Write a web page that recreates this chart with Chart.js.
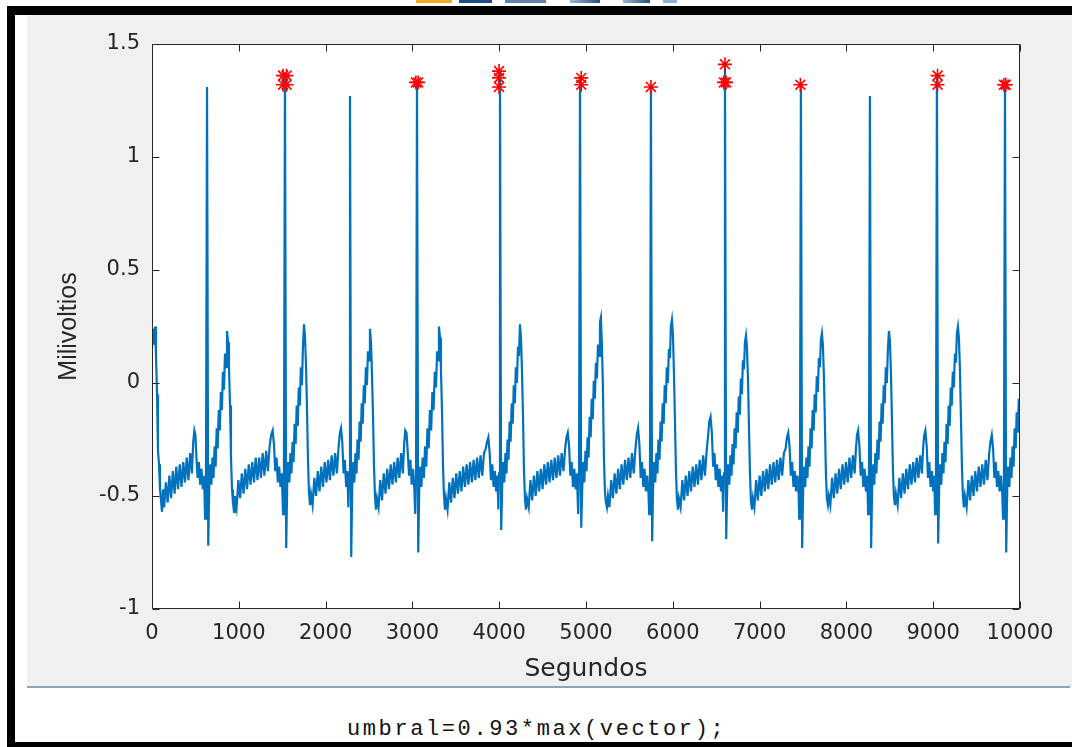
<!DOCTYPE html>
<html><head><meta charset="utf-8">
<script src="https://cdn.jsdelivr.net/npm/chart.js@4.4.0/dist/chart.umd.min.js"></script>
<style>
html,body{margin:0;padding:0;background:#fff;}
body{width:1072px;height:747px;position:relative;overflow:hidden;}
.abs{position:absolute;}
#frameTop{left:7px;top:6px;width:1065px;height:9px;background:#000;}
#frameLeft{left:7px;top:6px;width:8px;height:741px;background:#000;}
#frameBottom{left:7px;top:742px;width:1065px;height:5px;background:#000;}
#panel{left:27px;top:15px;width:1045px;height:672px;background:#f0f0f0;}
#sep{left:27px;top:686px;width:1043px;height:2px;background:#8da2bb;}
#code{left:347px;top:719px;font-family:"Liberation Mono",monospace;font-size:22px;letter-spacing:2.6px;color:#111;line-height:22px;white-space:pre;}
.logo{position:absolute;top:0;height:3px;}
#c{position:absolute;left:0;top:0;}
</style></head>
<body>
<div class="logo" style="left:416px;width:36px;background:#f2a922;"></div>
<div class="logo" style="left:459px;width:33px;background:#1d4f85;"></div>
<div class="logo" style="left:505px;width:41px;background:#5f86a8;"></div>
<div class="logo" style="left:570px;width:30px;background:linear-gradient(90deg,#9fb6cc,#1d4f85);"></div>
<div class="logo" style="left:623px;width:27px;background:linear-gradient(90deg,#9fb6cc,#1d4f85);"></div>
<div class="logo" style="left:663px;width:14px;background:#8fb0d0;"></div>
<div id="frameTop" class="abs"></div>
<div id="frameLeft" class="abs"></div>
<div id="frameBottom" class="abs"></div>
<div id="panel" class="abs"></div>
<div id="sep" class="abs"></div>
<div id="code" class="abs">umbral=0.93*max(vector);</div>
<canvas id="c" width="1072" height="747"></canvas>
<script>
// ---- Datos: [segundos, milivoltios] ----
const tramo0 = [[0,0.15],[12,0.24],[23,0.17],[35,0.25],[46,0.12],[58,-0.05],[69,-0.30],[81,-0.36],[92,-0.47],[104,-0.52],[115,-0.57],[127,-0.47],[140,-0.55],[160,-0.44],[180,-0.53],[200,-0.41],[220,-0.51],[240,-0.39],[260,-0.49],[280,-0.37],[300,-0.47],[320,-0.36],[340,-0.46],[360,-0.35],[380,-0.44],[400,-0.33],[420,-0.43],[440,-0.31],[460,-0.40],[475,-0.26],[488,-0.21],[500,-0.23],[512,-0.33],[525,-0.42],[540,-0.35],[555,-0.45],[570,-0.38],[585,-0.47],[600,-0.41],[612,-0.60],[622,-0.42]];
const latido1 = [[634,1.31],[648,-0.72],[660,-0.46],[672,-0.36],[684,-0.45],[697,-0.33],[709,-0.42],[721,-0.28],[733,-0.37],[745,-0.20],[757,-0.29],[769,-0.12],[781,-0.21],[793,-0.04],[805,-0.12],[817,0.05],[829,-0.03],[841,0.13],[853,0.07],[864,0.23],[876,0.18],[887,0.07],[899,-0.10],[910,-0.33],[922,-0.47],[933,-0.53],[945,-0.57],[956,-0.50],
 [975,-0.55],[995,-0.43],[1015,-0.51],[1035,-0.40],[1055,-0.49],[1075,-0.38],[1095,-0.47],[1115,-0.36],[1135,-0.45],[1155,-0.35],[1175,-0.44],[1195,-0.33],[1215,-0.43],[1235,-0.33],[1255,-0.42],[1275,-0.31],[1295,-0.41],[1315,-0.30],[1335,-0.39],[1355,-0.28],[1373,-0.23],[1390,-0.21],[1405,-0.27],[1420,-0.39],[1435,-0.33],[1450,-0.44],[1465,-0.37],[1480,-0.46],[1495,-0.40],[1510,-0.58],[1520,-0.40]];
const latido2 = [[1532,1.37],[1546,-0.73],[1558,-0.45],[1570,-0.35],[1582,-0.44],[1595,-0.31],[1607,-0.40],[1619,-0.26],[1631,-0.35],[1643,-0.18],[1655,-0.27],[1667,-0.10],[1679,-0.19],[1691,-0.02],[1703,-0.10],[1715,0.07],[1727,-0.01],[1739,0.16],[1751,0.26],[1762,0.21],[1774,0.08],[1785,-0.10],[1797,-0.34],[1808,-0.48],[1820,-0.54],[1832,-0.49],
 [1850,-0.54],[1870,-0.42],[1890,-0.50],[1910,-0.39],[1930,-0.48],[1950,-0.37],[1970,-0.46],[1990,-0.35],[2010,-0.44],[2030,-0.34],[2050,-0.43],[2070,-0.32],[2090,-0.41],[2110,-0.31],[2130,-0.40],[2150,-0.28],[2165,-0.22],[2178,-0.20],[2192,-0.26],[2207,-0.40],[2222,-0.34],[2237,-0.46],[2252,-0.39],[2262,-0.55],[2271,-0.40]];
const latido3 = [[2281,1.27],[2295,-0.77],[2307,-0.46],[2319,-0.35],[2331,-0.44],[2344,-0.31],[2356,-0.40],[2368,-0.25],[2380,-0.34],[2392,-0.17],[2404,-0.26],[2416,-0.09],[2428,-0.18],[2440,-0.01],[2452,-0.09],[2464,0.07],[2476,-0.01],[2488,0.14],[2500,0.10],[2511,0.24],[2523,0.18],[2534,0.04],[2546,-0.14],[2557,-0.36],[2569,-0.50],[2580,-0.56],[2592,-0.51],
 [2610,-0.55],[2630,-0.43],[2650,-0.52],[2670,-0.40],[2690,-0.49],[2710,-0.38],[2730,-0.47],[2750,-0.36],[2770,-0.45],[2790,-0.35],[2810,-0.44],[2830,-0.33],[2850,-0.42],[2870,-0.31],[2890,-0.40],[2905,-0.27],[2918,-0.21],[2932,-0.22],[2947,-0.31],[2962,-0.41],[2977,-0.34],[2992,-0.45],[3007,-0.38],[3022,-0.47],[3033,-0.58],[3042,-0.40]];
const latido4 = [[3053,1.33],[3067,-0.75],[3079,-0.47],[3091,-0.37],[3104,-0.46],[3118,-0.33],[3132,-0.42],[3146,-0.28],[3160,-0.37],[3174,-0.20],[3188,-0.29],[3202,-0.12],[3216,-0.21],[3230,-0.04],[3244,-0.12],[3258,0.05],[3272,-0.02],[3285,0.14],[3295,0.10],[3306,0.25],[3318,0.20],[3329,0.06],[3341,-0.12],[3352,-0.36],[3364,-0.50],[3375,-0.56],[3387,-0.51],
 [3405,-0.56],[3425,-0.44],[3445,-0.53],[3465,-0.42],[3485,-0.51],[3505,-0.40],[3525,-0.49],[3545,-0.39],[3565,-0.48],[3585,-0.37],[3605,-0.46],[3625,-0.36],[3645,-0.45],[3665,-0.35],[3685,-0.44],[3705,-0.34],[3725,-0.43],[3745,-0.33],[3765,-0.42],[3785,-0.32],[3805,-0.41],[3825,-0.31],[3845,-0.29],[3860,-0.26],[3875,-0.24],[3890,-0.31],[3905,-0.43],[3920,-0.36],[3935,-0.46],[3950,-0.39],[3965,-0.48],[3980,-0.41],[3990,-0.56],[3998,-0.40]];
const latido5 = [[4009,1.38],[4023,-0.65],[4035,-0.45],[4047,-0.35],[4059,-0.44],[4072,-0.31],[4084,-0.40],[4096,-0.25],[4108,-0.34],[4120,-0.17],[4132,-0.26],[4144,-0.09],[4156,-0.18],[4168,-0.01],[4180,-0.09],[4192,0.07],[4204,0.00],[4216,0.16],[4228,0.12],[4239,0.26],[4251,0.20],[4262,0.06],[4274,-0.14],[4285,-0.38],[4297,-0.51],[4308,-0.56],[4320,-0.51],
 [4340,-0.55],[4360,-0.43],[4380,-0.52],[4400,-0.41],[4420,-0.50],[4440,-0.39],[4460,-0.48],[4480,-0.38],[4500,-0.47],[4520,-0.36],[4540,-0.45],[4560,-0.35],[4580,-0.44],[4600,-0.34],[4620,-0.43],[4640,-0.33],[4660,-0.42],[4680,-0.32],[4700,-0.41],[4720,-0.31],[4740,-0.39],[4760,-0.29],[4775,-0.24],[4790,-0.22],[4805,-0.28],[4820,-0.41],[4835,-0.35],[4850,-0.46],[4865,-0.38],[4880,-0.47],[4895,-0.40],[4910,-0.58],[4920,-0.40]];
const latido6 = [[4931,1.35],[4945,-0.64],[4957,-0.46],[4969,-0.35],[4981,-0.44],[4994,-0.30],[5006,-0.39],[5018,-0.24],[5030,-0.33],[5042,-0.15],[5054,-0.24],[5066,-0.07],[5078,-0.16],[5090,0.01],[5102,-0.07],[5114,0.09],[5126,0.02],[5138,0.17],[5150,0.12],[5161,0.27],[5172,0.29],[5184,0.16],[5195,-0.02],[5207,-0.34],[5218,-0.48],[5230,-0.53],[5241,-0.55],[5253,-0.50],
 [5270,-0.55],[5290,-0.43],[5310,-0.51],[5330,-0.40],[5350,-0.49],[5370,-0.38],[5390,-0.47],[5410,-0.36],[5430,-0.45],[5450,-0.34],[5470,-0.43],[5490,-0.33],[5510,-0.42],[5530,-0.31],[5550,-0.40],[5570,-0.29],[5585,-0.23],[5600,-0.20],[5615,-0.27],[5630,-0.42],[5645,-0.35],[5660,-0.46],[5675,-0.38],[5690,-0.48],[5705,-0.41],[5720,-0.49],[5728,-0.58],[5737,-0.40]];
const latido7 = [[5748,1.31],[5762,-0.70],[5774,-0.45],[5786,-0.35],[5798,-0.44],[5811,-0.31],[5823,-0.40],[5835,-0.25],[5847,-0.34],[5859,-0.17],[5871,-0.26],[5883,-0.09],[5895,-0.18],[5907,-0.01],[5919,-0.09],[5931,0.07],[5943,0.00],[5955,0.15],[5967,0.11],[5978,0.25],[5990,0.28],[6001,0.22],[6013,0.05],[6024,-0.15],[6036,-0.38],[6047,-0.51],[6059,-0.56],[6070,-0.51],
 [6090,-0.55],[6110,-0.43],[6130,-0.52],[6150,-0.41],[6170,-0.50],[6190,-0.39],[6210,-0.48],[6230,-0.37],[6250,-0.46],[6270,-0.36],[6290,-0.45],[6310,-0.34],[6330,-0.43],[6350,-0.32],[6370,-0.41],[6390,-0.30],[6405,-0.24],[6420,-0.17],[6435,-0.15],[6450,-0.22],[6465,-0.37],[6480,-0.31],[6495,-0.43],[6510,-0.36],[6525,-0.46],[6540,-0.38],[6555,-0.48],[6570,-0.41],[6580,-0.57],[6590,-0.40]];
const latido8 = [[6601,1.41],[6615,-0.69],[6627,-0.46],[6639,-0.36],[6651,-0.45],[6664,-0.32],[6676,-0.41],[6688,-0.27],[6700,-0.36],[6712,-0.20],[6724,-0.29],[6736,-0.13],[6748,-0.22],[6760,-0.06],[6772,-0.14],[6784,0.02],[6796,-0.05],[6808,0.10],[6820,0.06],[6831,0.18],[6843,0.21],[6854,0.16],[6866,0.02],[6877,-0.18],[6889,-0.40],[6900,-0.52],[6912,-0.56],[6923,-0.51],
 [6940,-0.55],[6960,-0.43],[6980,-0.52],[7000,-0.41],[7020,-0.50],[7040,-0.39],[7060,-0.48],[7080,-0.38],[7100,-0.47],[7120,-0.36],[7140,-0.45],[7160,-0.35],[7180,-0.44],[7200,-0.34],[7220,-0.43],[7240,-0.33],[7260,-0.41],[7280,-0.31],[7300,-0.29],[7315,-0.24],[7330,-0.22],[7345,-0.28],[7360,-0.41],[7375,-0.35],[7390,-0.46],[7405,-0.39],[7420,-0.48],[7435,-0.41],[7450,-0.49],[7456,-0.60],[7465,-0.42]];
const latido9 = [[7476,1.32],[7490,-0.73],[7502,-0.47],[7514,-0.37],[7526,-0.46],[7539,-0.33],[7551,-0.42],[7563,-0.28],[7575,-0.37],[7587,-0.20],[7599,-0.29],[7611,-0.12],[7623,-0.21],[7635,-0.05],[7647,-0.13],[7659,0.03],[7671,-0.04],[7683,0.11],[7695,0.07],[7706,0.19],[7718,0.22],[7729,0.17],[7741,0.03],[7752,-0.17],[7764,-0.40],[7775,-0.51],[7787,-0.54],[7798,-0.50],
 [7815,-0.54],[7835,-0.42],[7855,-0.51],[7875,-0.40],[7895,-0.49],[7915,-0.38],[7935,-0.47],[7955,-0.36],[7975,-0.45],[7995,-0.35],[8015,-0.44],[8035,-0.33],[8055,-0.42],[8075,-0.32],[8095,-0.40],[8110,-0.29],[8122,-0.23],[8135,-0.21],[8150,-0.28],[8165,-0.41],[8180,-0.35],[8195,-0.46],[8210,-0.38],[8225,-0.48],[8240,-0.41],[8250,-0.58],[8260,-0.40]];
const latido10 = [[8271,1.27],[8285,-0.73],[8297,-0.46],[8309,-0.36],[8321,-0.45],[8334,-0.31],[8346,-0.40],[8358,-0.25],[8370,-0.34],[8382,-0.17],[8394,-0.26],[8406,-0.09],[8418,-0.18],[8430,-0.01],[8442,-0.09],[8454,0.07],[8466,0.00],[8478,0.15],[8490,0.23],[8501,0.19],[8513,0.05],[8524,-0.15],[8536,-0.38],[8547,-0.50],[8559,-0.54],[8570,-0.49],
 [8590,-0.54],[8610,-0.42],[8630,-0.51],[8650,-0.40],[8670,-0.49],[8690,-0.38],[8710,-0.47],[8730,-0.36],[8750,-0.45],[8770,-0.35],[8790,-0.44],[8810,-0.33],[8830,-0.42],[8850,-0.32],[8870,-0.40],[8885,-0.28],[8897,-0.23],[8910,-0.21],[8925,-0.28],[8940,-0.42],[8955,-0.35],[8970,-0.46],[8985,-0.39],[9000,-0.48],[9012,-0.41],[9022,-0.58],[9032,-0.40]];
const latido11 = [[9043,1.36],[9057,-0.71],[9069,-0.46],[9081,-0.36],[9093,-0.45],[9106,-0.31],[9118,-0.40],[9130,-0.26],[9142,-0.35],[9154,-0.18],[9166,-0.27],[9178,-0.10],[9190,-0.19],[9202,-0.02],[9214,-0.10],[9226,0.05],[9238,-0.02],[9250,0.13],[9262,0.09],[9273,0.22],[9285,0.25],[9296,0.20],[9308,0.06],[9319,-0.14],[9331,-0.37],[9342,-0.50],[9354,-0.55],[9365,-0.50],
 [9385,-0.55],[9405,-0.43],[9425,-0.52],[9445,-0.41],[9465,-0.50],[9485,-0.39],[9505,-0.48],[9525,-0.37],[9545,-0.46],[9565,-0.36],[9585,-0.45],[9605,-0.34],[9625,-0.43],[9645,-0.31],[9660,-0.26],[9675,-0.23],[9690,-0.29],[9705,-0.42],[9720,-0.35],[9735,-0.46],[9750,-0.39],[9765,-0.48],[9780,-0.41],[9795,-0.49],[9805,-0.60],[9815,-0.42]];
const latido12 = [[9827,1.32],[9841,-0.75],[9853,-0.47],[9865,-0.37],[9877,-0.46],[9890,-0.33],[9902,-0.42],[9914,-0.28],[9926,-0.37],[9938,-0.20],[9950,-0.29],[9962,-0.13],[9974,-0.22],[9986,-0.07],[10000,-0.12]];

// Picos detectados (umbral = 0.93*max)
const picosX = [1510,1550,1510,1550,3040,3066,3998,3998,3998,4945,4945,5748,6601,6588,6614,7470,9050,9050,9815,9837];
const picosY = [1.36,1.36,1.32,1.32,1.33,1.33,1.38,1.35,1.31,1.35,1.32,1.31,1.41,1.33,1.33,1.32,1.36,1.32,1.32,1.32];

// Ejes
const ticksX = [0,1000,2000,3000,4000,5000,6000,7000,8000,9000,10000];
const etiquetasX = ['0','1000','2000','3000','4000','5000','6000','7000','8000','9000','10000'];
const ticksY = [-1,-0.5,0,0.5,1,1.5];
const etiquetasY = ['-1','-0.5','0','0.5','1','1.5'];
const tituloX = 'Segundos';
const tituloY = 'Milivoltios';

const senal = [tramo0,latido1,latido2,latido3,latido4,latido5,latido6,latido7,latido8,latido9,latido10,latido11,latido12]
  .flat().map(p => ({x:p[0], y:p[1]}));
const picos = picosX.map((x,i) => ({x, y:picosY[i]}));

const marco = {
  id:'marco',
  beforeDraw(chart){
    const {ctx, chartArea:a} = chart;
    ctx.save(); ctx.fillStyle='#ffffff';
    ctx.fillRect(a.left, a.top, a.right-a.left, a.bottom-a.top);
    ctx.restore();
  },
  afterDatasetsDraw(chart){
    const {ctx, chartArea:a, scales:{x,y}} = chart;
    ctx.save();
    ctx.strokeStyle='#262626'; ctx.lineWidth=1;
    const L=Math.round(a.left)+0.5, R=Math.round(a.right)-0.5, T=Math.round(a.top)+0.5, B=Math.round(a.bottom)-0.5;
    ctx.beginPath();
    ctx.rect(L,T,R-L,B-T);
    const len=7;
    ticksX.forEach(v=>{const p=Math.round(x.getPixelForValue(v))+0.5; ctx.moveTo(p,B); ctx.lineTo(p,B-len); ctx.moveTo(p,T); ctx.lineTo(p,T+len);});
    ticksY.forEach(v=>{const p=Math.round(y.getPixelForValue(v))+0.5; ctx.moveTo(L,p); ctx.lineTo(L+len,p); ctx.moveTo(R,p); ctx.lineTo(R-len,p);});
    ctx.stroke(); ctx.restore();
  }
};

new Chart(document.getElementById('c'), {
  type:'line',
  data:{ datasets:[
    { data:picos, showLine:false, pointStyle:'star', pointRadius:7, pointBorderWidth:1.6,
      borderColor:'#ff0000', backgroundColor:'#ff0000', pointBorderColor:'#ff0000' },
    { data:senal, borderColor:'#0072BD', borderWidth:2.2, pointRadius:0, tension:0, fill:false, borderJoinStyle:'miter' }
  ]},
  options:{
    responsive:false, animation:false, devicePixelRatio:1, parsing:false,
    layout:{ padding:{left:27, top:44, right:52, bottom:60} },
    plugins:{ legend:{display:false}, tooltip:{enabled:false} },
    scales:{
      x:{ type:'linear', min:0, max:10000,
        afterBuildTicks:s=>{ s.ticks = ticksX.map(v=>({value:v})); },
        afterFit:s=>{ s.height = 78; },
        grid:{display:false, drawTicks:false}, border:{display:false},
        ticks:{ autoSkip:false, maxRotation:0, padding:12, color:'#262626',
          font:{family:'DejaVu Sans', size:21}, callback:(v,i)=>etiquetasX[i] },
        title:{ display:true, text:tituloX, color:'#262626', padding:{top:0,bottom:3},
          font:{family:'DejaVu Sans', size:25} }
      },
      y:{ type:'linear', min:-1, max:1.5,
        afterBuildTicks:s=>{ s.ticks = ticksY.map(v=>({value:v})); },
        afterFit:s=>{ s.width = 125; },
        grid:{display:false, drawTicks:false}, border:{display:false},
        ticks:{ padding:12, color:'#262626', font:{family:'DejaVu Sans', size:21},
          callback:(v,i)=>etiquetasY[i] },
        title:{ display:true, text:tituloY, color:'#262626', padding:{top:27,bottom:0},
          font:{family:'Liberation Sans', size:25} }
      }
    }
  },
  plugins:[marco]
});
</script>
</body></html>
